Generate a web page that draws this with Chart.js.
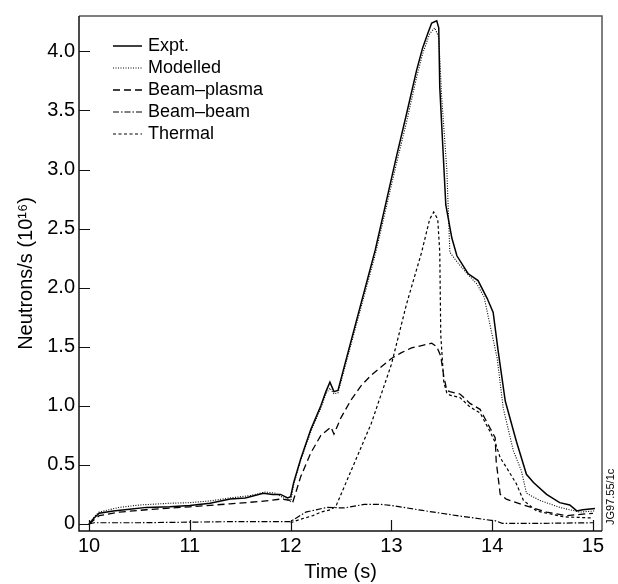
<!DOCTYPE html>
<html>
<head>
<meta charset="utf-8">
<script src="https://cdn.jsdelivr.net/npm/chart.js@4.4.0/dist/chart.umd.min.js"></script>
<style>
  html, body { margin: 0; padding: 0; background: #fff; }
  canvas { display: block; }
</style>
</head>
<body>
<canvas id="chart" width="618" height="584"></canvas>
<script>
// --- data ---
const exptT = [10.0, 10.05, 10.1, 10.24, 10.4, 10.57, 10.8, 11.0, 11.2, 11.4, 11.55, 11.73, 11.82, 11.9, 11.97, 12.0, 12.03, 12.1, 12.2, 12.3, 12.35, 12.39, 12.43, 12.47, 12.6, 12.84, 13.05, 13.15, 13.25, 13.31, 13.36, 13.4, 13.45, 13.47, 13.48, 13.51, 13.54, 13.6, 13.65, 13.76, 13.86, 13.95, 14.01, 14.06, 14.13, 14.24, 14.34, 14.41, 14.54, 14.67, 14.77, 14.84, 14.9, 15.02];
const exptV = [0.0, 0.05, 0.09, 0.11, 0.125, 0.14, 0.145, 0.156, 0.175, 0.21, 0.22, 0.26, 0.25, 0.25, 0.22, 0.23, 0.35, 0.55, 0.8, 1.0, 1.12, 1.2, 1.12, 1.13, 1.55, 2.32, 3.11, 3.47, 3.84, 4.03, 4.15, 4.24, 4.26, 4.2, 3.7, 3.2, 2.7, 2.42, 2.27, 2.12, 2.06, 1.91, 1.79, 1.46, 1.04, 0.70, 0.42, 0.35, 0.25, 0.18, 0.16, 0.11, 0.12, 0.13];

const modT = [10.0, 10.05, 10.1, 10.3, 10.5, 10.8, 11.0, 11.2, 11.4, 11.6, 11.75, 11.85, 11.95, 12.0, 12.03, 12.1, 12.2, 12.3, 12.35, 12.39, 12.43, 12.47, 12.6, 12.84, 13.05, 13.15, 13.25, 13.31, 13.38, 13.43, 13.47, 13.5, 13.55, 13.58, 13.65, 13.75, 13.85, 13.92, 14.0, 14.05, 14.11, 14.21, 14.29, 14.34, 14.47, 14.67, 14.87, 15.02];
const modV = [0.0, 0.06, 0.1, 0.14, 0.16, 0.175, 0.18, 0.195, 0.22, 0.24, 0.27, 0.26, 0.21, 0.19, 0.33, 0.54, 0.78, 0.98, 1.1, 1.15, 1.1, 1.11, 1.52, 2.28, 3.05, 3.4, 3.78, 3.98, 4.15, 4.2, 4.12, 3.6, 3.0, 2.3, 2.22, 2.12, 2.03, 1.92, 1.6, 1.4, 0.98, 0.62, 0.45, 0.26, 0.2, 0.14, 0.1, 0.11];

const bpT = [10.0, 10.1, 10.3, 10.57, 11.0, 11.4, 11.7, 11.9, 12.0, 12.02, 12.1, 12.2, 12.3, 12.4, 12.43, 12.5, 12.6, 12.7, 12.8, 12.9, 13.0, 13.1, 13.2, 13.3, 13.4, 13.45, 13.49, 13.52, 13.55, 13.58, 13.68, 13.78, 13.88, 13.98, 14.03, 14.04, 14.08, 14.14, 14.31, 14.54, 14.74, 15.0];
const bpV = [0.0, 0.07, 0.1, 0.12, 0.145, 0.17, 0.19, 0.21, 0.2, 0.18, 0.4, 0.6, 0.75, 0.82, 0.76, 0.9, 1.05, 1.17, 1.26, 1.33, 1.4, 1.45, 1.49, 1.51, 1.53, 1.5, 1.42, 1.25, 1.13, 1.12, 1.1, 1.02, 0.97, 0.81, 0.73, 0.53, 0.25, 0.21, 0.16, 0.10, 0.07, 0.09];

const bbT = [10.0, 10.05, 10.5, 11.0, 11.5, 11.9, 12.0, 12.15, 12.36, 12.53, 12.73, 12.9, 13.0, 13.31, 13.65, 13.99, 14.02, 14.1, 14.5, 15.0];
const bbV = [0.0, 0.01, 0.01, 0.015, 0.02, 0.02, 0.02, 0.10, 0.14, 0.135, 0.165, 0.165, 0.156, 0.114, 0.07, 0.03, 0.03, 0.005, 0.005, 0.01];

const thT = [12.0, 12.1, 12.22, 12.3, 12.4, 12.45, 12.6, 12.8, 13.0, 13.15, 13.3, 13.38, 13.42, 13.46, 13.48, 13.49, 13.52, 13.55, 13.58, 13.68, 13.78, 13.88, 13.98, 14.03, 14.08, 14.14, 14.24, 14.31, 14.44, 14.71, 15.0];
const thV = [0.01, 0.04, 0.07, 0.10, 0.12, 0.15, 0.45, 0.85, 1.35, 1.86, 2.3, 2.58, 2.64, 2.58, 2.3, 1.6, 1.2, 1.11, 1.09, 1.07, 0.99, 0.94, 0.78, 0.69, 0.56, 0.48, 0.34, 0.2, 0.11, 0.06, 0.05];

const xTickVals = [10, 11, 12, 13, 14, 15];
const yTickVals = [0, 0.5, 1.0, 1.5, 2.0, 2.5, 3.0, 3.5, 4.0];
const yTickLabels = ['0', '0.5', '1.0', '1.5', '2.0', '2.5', '3.0', '3.5', '4.0'];
const seriesNames = ['Expt.', 'Modelled', 'Beam\u2013plasma', 'Beam\u2013beam', 'Thermal'];

const FONT = "'Liberation Sans', Arial, Helvetica, sans-serif";
const pts = (t, v) => t.map((x, i) => ({ x, y: v[i] }));

const line = (label, t, v, dash, width) => ({
    label, data: pts(t, v), borderColor: '#000', borderWidth: width,
    borderDash: dash, pointRadius: 0, tension: 0, fill: false
});

// inward ticks + frame
const frameTicks = {
    id: 'frameTicks',
    afterDatasetsDraw(chart) {
        const { ctx, chartArea: a, scales: { x, y } } = chart;
        ctx.save();
        ctx.setLineDash([]);
        ctx.lineWidth = 1.5;
        ctx.strokeStyle = '#555';
        ctx.beginPath();
        ctx.moveTo(a.left, a.top); ctx.lineTo(a.right, a.top); ctx.lineTo(a.right, a.bottom);
        ctx.stroke();
        ctx.strokeStyle = '#111';
        ctx.beginPath();
        ctx.moveTo(a.left, a.top); ctx.lineTo(a.left, a.bottom); ctx.lineTo(a.right, a.bottom);
        ctx.stroke();
        ctx.lineWidth = 1.2;
        ctx.beginPath();
        yTickVals.forEach(v => {
            const py = Math.round(y.getPixelForValue(v)) + 0.5;
            ctx.moveTo(a.left, py); ctx.lineTo(a.left + 11, py);
        });
        xTickVals.forEach(v => {
            const px = Math.round(x.getPixelForValue(v)) + 0.5;
            ctx.moveTo(px, a.bottom); ctx.lineTo(px, a.bottom - 11);
        });
        ctx.stroke();
        // figure reference
        ctx.fillStyle = '#000';
        ctx.font = '11px ' + FONT;
        ctx.translate(614, a.bottom - 6);
        ctx.rotate(-Math.PI / 2);
        ctx.textAlign = 'left';
        ctx.textBaseline = 'alphabetic';
        ctx.fillText('JG97.55/1c', 0, 0);
        ctx.restore();
    }
};

// legend drawn inside the plot, top-left
const innerLegend = {
    id: 'innerLegend',
    afterDraw(chart) {
        const { ctx, chartArea: a } = chart;
        ctx.save();
        ctx.font = '18px ' + FONT;
        ctx.fillStyle = '#000';
        ctx.textBaseline = 'middle';
        chart.data.datasets.forEach((ds, i) => {
            const yy = a.top + 30 + i * 22;
            ctx.strokeStyle = '#000';
            ctx.lineWidth = ds.borderWidth;
            ctx.setLineDash(ds.borderDash || []);
            ctx.beginPath();
            ctx.moveTo(a.left + 34, yy);
            ctx.lineTo(a.left + 63, yy);
            ctx.stroke();
            ctx.setLineDash([]);
            ctx.fillText(ds.label, a.left + 69, yy);
        });
        ctx.restore();
    }
};

new Chart(document.getElementById('chart'), {
    type: 'line',
    data: {
        datasets: [
            line(seriesNames[0], exptT, exptV, [], 1.5),
            line(seriesNames[1], modT, modV, [1, 1.5], 1.1),
            line(seriesNames[2], bpT, bpV, [7, 4], 1.3),
            line(seriesNames[3], bbT, bbV, [6, 2, 1.5, 2], 1.2),
            line(seriesNames[4], thT, thV, [3, 2.5], 1.2)
        ]
    },
    options: {
        responsive: false,
        animation: false,
        layout: { padding: { left: 0, top: 11, right: 16, bottom: 0 } },
        plugins: { legend: { display: false }, tooltip: { enabled: false } },
        scales: {
            x: {
                type: 'linear', min: 9.9, max: 15.09,
                afterBuildTicks: s => { s.ticks = xTickVals.map(v => ({ value: v })); },
                afterFit: s => { s.height = 53; },
                grid: { display: false, drawTicks: false }, border: { display: false },
                ticks: { color: '#000', font: { family: FONT, size: 20 }, padding: 3, maxRotation: 0,
                         callback: v => String(v) },
                title: { display: true, text: 'Time (s)', color: '#000', font: { family: FONT, size: 20 }, padding: { top: 0, bottom: 0 } }
            },
            y: {
                type: 'linear', min: -0.06, max: 4.30,
                afterBuildTicks: s => { s.ticks = yTickVals.map(v => ({ value: v })); },
                afterFit: s => { s.width = 79; },
                grid: { display: false, drawTicks: false }, border: { display: false },
                ticks: { color: '#000', font: { family: FONT, size: 20 }, padding: 4,
                         callback: v => yTickLabels[yTickVals.indexOf(v)] },
                title: { display: true, text: 'Neutrons/s (10\u00B9\u2076)', color: '#000', font: { family: FONT, size: 20 }, padding: { top: 14, bottom: 0 } }
            }
        }
    },
    plugins: [frameTicks, innerLegend]
});
</script>
</body>
</html>
